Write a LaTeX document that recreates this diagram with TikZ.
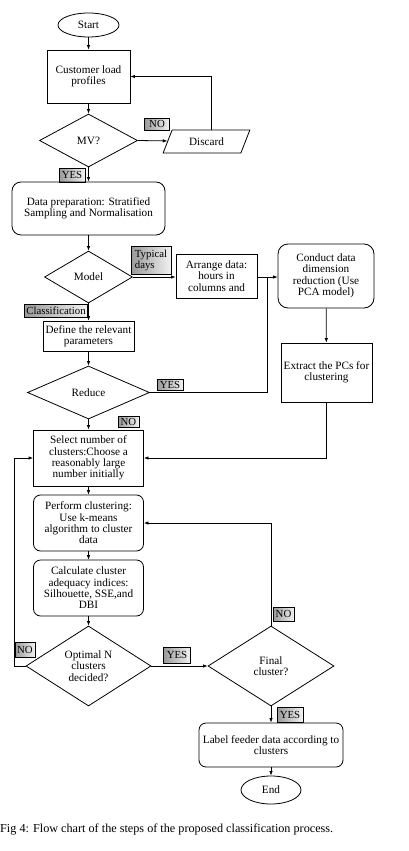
\documentclass[tikz,border=0pt]{standalone}
\usepackage{fontspec}
\setmainfont{Liberation Serif}
\usetikzlibrary{shapes.geometric,arrows.meta}
\begin{document}
\begin{tikzpicture}[x=1pt,y=-1pt,
  every node/.style={font=\fontsize{11.2}{11.4}\selectfont, align=center},
  box/.style={draw, line width=0.8pt, inner sep=1pt, rectangle},
  rbox/.style={box, rounded corners=7pt},
  dia/.style={draw, line width=0.8pt, diamond, inner sep=0pt, aspect=1.6},
  term/.style={draw, line width=0.8pt, ellipse, inner sep=0pt},
  tag/.style={draw, line width=0.6pt, left color=gray!80, right color=gray!10, inner sep=0.5pt, font=\fontsize{10.8}{11}\selectfont},
  arr/.style={line width=0.8pt, -{Latex[length=4.5pt,width=3.5pt]}},
  ln/.style={line width=0.8pt}]
\useasboundingbox[fill=white] (0,0) rectangle (409,851);

% tags (drawn first so connectors pass over them)
\node[tag, minimum width=25pt, minimum height=12pt] (tno1) at (157,124) {NO};
\node[tag, minimum width=26pt, minimum height=14pt] (tyes1) at (72,175) {YES};
\node[tag, minimum width=40pt, minimum height=28pt, align=left] (ttyp) at (151,260) {Typical\\days};
\node[tag, minimum width=63pt, minimum height=13pt] (tcls) at (56,311) {Classification};
\node[tag, minimum width=26pt, minimum height=11pt] (tyes2) at (170,385) {YES};
\node[tag, minimum width=21pt, minimum height=11pt] (tno2) at (128.5,421.5) {NO};
\node[tag, minimum width=20pt, minimum height=15pt] (tno3) at (25,650) {NO};
\node[tag, minimum width=27pt, minimum height=16pt] (tyes3) at (177,655) {YES};
\node[tag, minimum width=21pt, minimum height=14pt] (tno4) at (283.5,614) {NO};
\node[tag, minimum width=26pt, minimum height=15pt] (tyes4) at (290,715) {YES};

% main nodes
\node[term, minimum width=61pt, minimum height=24pt] (start) at (88.5,25) {Start};
\node[box, minimum width=83pt, minimum height=53pt] (cust) at (88.5,76.5) {Customer load\\profiles};
\node[dia, minimum width=98pt, minimum height=53pt] (mv) at (88.5,140.5) {MV?};
\node[draw, line width=0.8pt, trapezium, trapezium left angle=60, trapezium right angle=120,
      trapezium stretches=true, minimum width=87pt, minimum height=23pt, inner sep=0pt] (discard) at (206.5,141.5) {Discard};
\node[rbox, rounded corners=9pt, minimum width=153pt, minimum height=53pt] (prep) at (88.5,208.5) {Data preparation: Stratified\\Sampling and Normalisation};
\node[dia, minimum width=88pt, minimum height=52pt] (model) at (88.5,277) {Model};
\node[box, minimum width=81pt, minimum height=44pt] (arrange) at (216.5,276) {Arrange data:\\hours in\\columns and};
\node[rbox, rounded corners=10pt, minimum width=96pt, minimum height=64pt] (conduct) at (326,276) {Conduct data\\dimension\\reduction (Use\\PCA model)};
\node[box, minimum width=91pt, minimum height=30pt] (define) at (88.5,336) {Define the relevant\\parameters};
\node[dia, minimum width=122pt, minimum height=53pt] (reduce) at (88.5,392.5) {Reduce};
\node[box, minimum width=91pt, minimum height=59pt] (extract) at (326.5,372.5) {Extract the PCs for\\clustering};
\node[box, minimum width=110pt, minimum height=56pt] (select) at (88.5,458) {Select number of\\clusters:Choose a\\reasonably large\\number initially};
\node[rbox, minimum width=110pt, minimum height=56pt] (perform) at (88.5,523) {Perform clustering:\\Use k-means\\algorithm to cluster\\data};
\node[rbox, minimum width=110pt, minimum height=56pt] (calc) at (88.5,588) {Calculate cluster\\adequacy indices:\\Silhouette, SSE,and\\DBI};
\node[dia, minimum width=125pt, minimum height=80pt] (optimal) at (88.5,666) {Optimal N\\clusters\\decided?};
\node[dia, minimum width=126pt, minimum height=80pt] (final) at (271,666) {Final\\cluster?};
\node[rbox, minimum width=144pt, minimum height=44pt] (labelbox) at (271,745) {Label feeder data according to\\clusters};
\node[term, minimum width=60pt, minimum height=28pt] (end) at (271,790) {End};
\node[anchor=west, inner sep=0pt, font=\fontsize{12.2}{13}\selectfont] (cap) at (0,830) {Fig 4: Flow chart of the steps of the proposed classification process.};

% helper coordinates
\coordinate (jn) at (267,277);
\coordinate (lp) at (14,666);

% connectors
\draw[arr] (start) -- (cust);
\draw[arr] (cust) -- (mv);
\draw[arr] (mv.east) -- (discard);
\draw[arr] ([xshift=4.5pt]discard.north) |- (cust.east);
\draw[arr] (mv) -- (prep);
\draw[arr] (prep) -- (model);
\draw[arr] (model.east) -- (arrange.west |- model.east);
\draw[arr] (arrange.east |- jn) -- (conduct.west |- jn);
\draw[arr] (conduct) -- (extract);
\draw[arr] (model) -- (define);
\draw[arr] (define) -- (reduce);
\draw[ln] (reduce.east) -| (jn);
\draw[arr] (reduce) -- (select);
\draw[arr] (extract.south) |- (select.east);
\draw[arr] (select) -- (perform);
\draw[arr] (perform) -- (calc);
\draw[arr] (calc) -- (optimal);
\draw[arr] (optimal.west) -- (lp) |- (select.west);
\draw[arr] (optimal.east) -- (final.west);
\draw[arr] (final.north) |- (perform.east);
\draw[arr] (final) -- (labelbox);
\draw[arr] (labelbox) -- (end);
\end{tikzpicture}
\end{document}
